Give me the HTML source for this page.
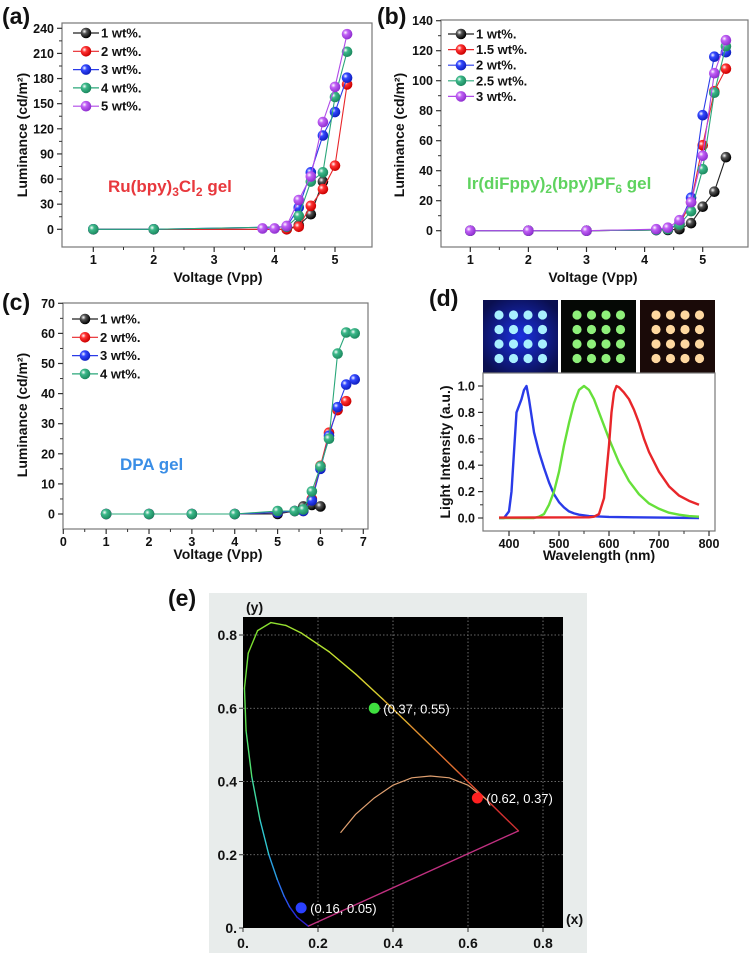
<!DOCTYPE html>
<html><head><meta charset="utf-8">
<style>
html,body{margin:0;padding:0;background:#fff;}
svg{display:block;font-family:"Liberation Sans",Arial,sans-serif;}
.tl{font-size:12.5px;font-weight:bold;fill:#111;}
.al{font-size:14px;font-weight:bold;fill:#111;}
.pl{font-size:23px;font-weight:bold;fill:#111;}
.lg{font-size:13px;font-weight:bold;fill:#111;}
</style></head>
<body>
<svg id="fig" width="753" height="959" viewBox="0 0 753 959" xmlns="http://www.w3.org/2000/svg">
<defs>
<radialGradient id="g-k" cx="35%" cy="35%" r="65%"><stop offset="0" stop-color="#fff"/><stop offset="0.35" stop-color="#555"/><stop offset="1" stop-color="#000"/></radialGradient>
<radialGradient id="g-r" cx="35%" cy="35%" r="65%"><stop offset="0" stop-color="#fff"/><stop offset="0.35" stop-color="#f33"/><stop offset="1" stop-color="#c00"/></radialGradient>
<radialGradient id="g-b" cx="35%" cy="35%" r="65%"><stop offset="0" stop-color="#fff"/><stop offset="0.35" stop-color="#3348ff"/><stop offset="1" stop-color="#1020c0"/></radialGradient>
<radialGradient id="g-g" cx="35%" cy="35%" r="65%"><stop offset="0" stop-color="#fff"/><stop offset="0.35" stop-color="#3cb88a"/><stop offset="1" stop-color="#1d8a60"/></radialGradient>
<radialGradient id="g-p" cx="35%" cy="35%" r="65%"><stop offset="0" stop-color="#fff"/><stop offset="0.35" stop-color="#c060f5"/><stop offset="1" stop-color="#9030d0"/></radialGradient>
<radialGradient id="bluebg" cx="50%" cy="50%" r="60%"><stop offset="0" stop-color="#1b30e0"/><stop offset="1" stop-color="#0a0f50"/></radialGradient>
</defs>
<g id="root"></g>
</svg>
<script>
// ---------- panel (a) data ----------
const aX = [1,2,3.8,4,4.2,4.4,4.6,4.8,5,5.2];
const a1 = [0,0,null,null,0,5,18,57,null,null];
const a2 = [0,0,null,null,0,3,28,48,76,173];
const a3 = [0,0,null,null,3,26,68,112,140,181];
const a4 = [0,0,null,null,3,16,57,68,158,212];
const a5 = [null,null,1,1,4,35,63,128,170,233];
const aLegend = ["1 wt%.","2 wt%.","3 wt%.","4 wt%.","5 wt%."];
const aYTicks = [0,30,60,90,120,150,180,210,240];
const aXTicks = [1,2,3,4,5];
// ---------- panel (b) data ----------
const bX = [1,2,3,4.2,4.4,4.6,4.8,5,5.2,5.4];
const b1 = [0,0,0,0.5,0.5,1,5,16,26,49];
const b2 = [0,0,0,0.5,1,4,19,57,93,108];
const b3 = [0,0,0,0.5,1,5,22,77,116,119];
const b4 = [0,0,0,0.5,1,4,13,41,92,123];
const b5 = [0,0,0,1,2,7,19,50,105,127];
const bLegend = ["1 wt%.","1.5 wt%.","2 wt%.","2.5 wt%.","3 wt%."];
const bYTicks = [0,20,40,60,80,100,120,140];
const bXTicks = [1,2,3,4,5];
// ---------- panel (c) data ----------
const cX = [1,2,3,4,5,5.4,5.6,5.8,6,6.2,6.4,6.6,6.8];
const c1 = [0,0,0,0,0,1,2.5,3,2.5,null,null,null,null];
const c2 = [0,0,0,0,0.5,1,1,5,16,27,34.5,37.5,null];
const c3 = [0,0,0,0,0.5,1,1,4.5,15,26,35.5,43,44.7];
const c4 = [0,0,0,0,1,1,1.5,7.5,15.8,25,53.3,60.3,60];
const cLegend = ["1 wt%.","2 wt%.","3 wt%.","4 wt%."];
const cYTicks = [0,10,20,30,40,50,60,70];
const cXTicks = [0,1,2,3,4,5,6,7];
// ---------- panel (d) data ----------
const dBlueX = [380,390,400,405,410,415,420,425,430,435,440,450,460,470,480,490,500,510,520,530,540,560,600,650,700,780];
const dBlueY = [0,0,0.05,0.2,0.5,0.8,0.85,0.9,0.97,1.0,0.9,0.65,0.5,0.38,0.27,0.18,0.12,0.08,0.05,0.035,0.025,0.015,0.008,0.005,0.003,0];
const dGreenX = [380,450,460,470,480,490,500,510,520,530,540,550,560,570,580,590,600,620,640,660,680,700,720,740,760,780];
const dGreenY = [0,0,0.01,0.03,0.1,0.2,0.35,0.55,0.72,0.87,0.97,1.0,0.97,0.9,0.8,0.7,0.6,0.42,0.28,0.18,0.11,0.07,0.04,0.025,0.015,0.01];
const dRedX = [380,560,570,580,590,600,605,610,615,620,630,640,650,660,670,680,700,720,740,760,780];
const dRedY = [0.003,0.005,0.01,0.03,0.15,0.55,0.8,0.95,1.0,0.99,0.95,0.9,0.82,0.72,0.6,0.5,0.35,0.24,0.17,0.13,0.1];
const dYTicks = [0,0.2,0.4,0.6,0.8,1.0];
const dXTicks = [400,500,600,700,800];
// ---------- panel (e) data ----------
const eLocusX = [0.1741,0.144,0.1241,0.1096,0.0913,0.0687,0.0454,0.0235,0.0082,0.0039,0.0139,0.0389,0.0743,0.1142,0.1547,0.2296,0.3016,0.3731,0.4441,0.5125,0.5752,0.627,0.6658,0.6915,0.719,0.7347];
const eLocusY = [0.005,0.0297,0.0578,0.0868,0.1327,0.2007,0.295,0.4127,0.5384,0.6548,0.7502,0.812,0.8338,0.8262,0.8059,0.7543,0.6923,0.6245,0.5547,0.4866,0.4242,0.3725,0.334,0.3083,0.2809,0.2653];
const eLocusC = ["#3020d0","#2630e0","#2a50f0","#2a70f0","#2aa0e0","#30c8d0","#40d8a0","#50e070","#60e050","#6fe040","#7ce030","#88e030","#90e030","#a0e030","#b0e030","#c8e030","#d8d030","#e0b030","#e09030","#e07030","#e05030","#e04030","#d83030","#d03030","#c83030","#c03030"];
const ePlanckX = [0.26,0.3,0.35,0.4,0.45,0.5,0.55,0.6,0.65];
const ePlanckY = [0.26,0.31,0.355,0.39,0.41,0.415,0.41,0.39,0.35];
const ePtX = [0.35,0.625,0.155];
const ePtY = [0.60,0.355,0.055];
const ePtLabel = ["(0.37, 0.55)","(0.62, 0.37)","(0.16, 0.05)"];
const ePtColor = ["#3fe03f","#ff2020","#2a40ff"];
const eTicks = [0,0.2,0.4,0.6,0.8];
const eTickLabels = ["0.","0.2","0.4","0.6","0.8"];

const NS = "http://www.w3.org/2000/svg";
const root = document.getElementById('root');
function el(tag, attrs, parent){
  const e = document.createElementNS(NS, tag);
  for (const k in attrs) e.setAttribute(k, attrs[k]);
  (parent||root).appendChild(e);
  return e;
}
function scale(d0,d1,r0,r1){ return v => r0 + (v-d0)*(r1-r0)/(d1-d0); }
const serColors = ["#222","#e8262a","#2a3be8","#2aa77a","#b04ae8"];
const serGrad = ["url(#g-k)","url(#g-r)","url(#g-b)","url(#g-g)","url(#g-p)"];

function frame(box, name){
  const r = el('rect',{x:box.l,y:box.t,width:box.r-box.l,height:box.b-box.t,fill:'none',stroke:'#777','stroke-width':1.2});
  
  
}
function yAxis(box, sy, ticks, fmt, name){
  const g = el('g',{});
  
  
  ticks.forEach((t,i)=>{
    const y = sy(t);
    el('line',{x1:box.l-5,x2:box.l,y1:y,y2:y,stroke:'#333','stroke-width':1.2},g);
    if(i<ticks.length-1){const ym=sy((t+ticks[i+1])/2); el('line',{x1:box.l-3,x2:box.l,y1:ym,y2:ym,stroke:'#333','stroke-width':1},g);}
    const tx = el('text',{x:box.l-8,y:y+4.5,'text-anchor':'end',class:'tl'},g);
    tx.textContent = fmt(t);
    
    
  });
}
function xAxis(box, sx, ticks, name){
  const g = el('g',{});
  
  
  ticks.forEach((t,i)=>{
    const x = sx(t);
    el('line',{x1:x,x2:x,y1:box.b,y2:box.b+5,stroke:'#333','stroke-width':1.2},g);
    if(i<ticks.length-1){const xm=sx((t+ticks[i+1])/2); el('line',{x1:xm,x2:xm,y1:box.b,y2:box.b+3,stroke:'#333','stroke-width':1},g);}
    const tx = el('text',{x:x,y:box.b+17,'text-anchor':'middle',class:'tl'},g);
    tx.textContent = t;
    
    
  });
}
function series(xs, ys, sx, sy, k, name){
  const g = el('g',{});
  
  
  const pts=[];
  xs.forEach((x,i)=>{ if(ys[i]!==null) pts.push([sx(x),sy(ys[i])]); });
  el('polyline',{points:pts.map(p=>p.join(',')).join(' '),fill:'none',stroke:serColors[k],'stroke-width':1.1},g);
  pts.forEach(p=>{
    const c = el('circle',{cx:p[0],cy:p[1],r:5.3,fill:serGrad[k]},g);
    
    
  });
}
function legend(labels, x, y0, dy, name){
  labels.forEach((lab,k)=>{
    const g = el('g',{});
    
    
    const y = y0 + k*dy;
    el('line',{x1:x-13,x2:x+13,y1:y,y2:y,stroke:serColors[k],'stroke-width':1.2},g);
    el('circle',{cx:x,cy:y,r:5.3,fill:serGrad[k]},g);
    const t = el('text',{x:x+15,y:y+4.5,class:'lg'},g);
    t.textContent = lab;
  });
}
function text(x,y,str,cls,name,extra){
  const t = el('text',Object.assign({x:x,y:y,class:cls},extra||{}));
  t.textContent = str;
  
  
  return t;
}

// ===== Panel (a) =====
{
  const box={l:62,r:372,t:23,b:247};
  const sx=scale(1,5,93.3,335), sy=scale(0,240,229.3,28.3);
  frame(box,'panel-a');
  yAxis(box,sy,aYTicks,v=>v,'panel-a');
  xAxis(box,sx,aXTicks,'panel-a');
  [a1,a2,a3,a4,a5].forEach((s,k)=>series(aX,s,sx,sy,k,'panel-a'));
  legend(aLegend,86,33,18.3,'panel-a');
  text(2,24,"(a)","pl","panel-a-label");
  text(27,135,"Luminance (cd/m²)","al","panel-a-y-title",{transform:"rotate(-90 27 135)","text-anchor":"middle"});
  text(218,282,"Voltage (Vpp)","al","panel-a-x-title",{"text-anchor":"middle"});
  const t=text(108,192,"","al","panel-a-annotation",{"font-size":"17px"});
  t.innerHTML='Ru(bpy)<tspan font-size="12" dy="4">3</tspan><tspan dy="-4">Cl</tspan><tspan font-size="12" dy="4">2</tspan><tspan dy="-4"> gel</tspan>';
  t.style.fill='#e8383d';
  t.style.fontSize='17px';
}
// ===== Panel (b) =====
{
  const box={l:441,r:748,t:20,b:247};
  const sx=scale(1,5,470.3,702.7), sy=scale(0,140,230.7,20.7);
  frame(box,'panel-b');
  yAxis(box,sy,bYTicks,v=>v,'panel-b');
  xAxis(box,sx,bXTicks,'panel-b');
  [b1,b2,b3,b4,b5].forEach((s,k)=>series(bX,s,sx,sy,k,'panel-b'));
  legend(bLegend,461,34,15.6,'panel-b');
  text(377,24,"(b)","pl","panel-b-label");
  text(404,135,"Luminance (cd/m²)","al","panel-b-y-title",{transform:"rotate(-90 404 135)","text-anchor":"middle"});
  text(593,282,"Voltage (Vpp)","al","panel-b-x-title",{"text-anchor":"middle"});
  const t=text(467,189,"","al","panel-b-annotation",{"font-size":"17px"});
  t.innerHTML='Ir(diFppy)<tspan font-size="12" dy="4">2</tspan><tspan dy="-4">(bpy)PF</tspan><tspan font-size="12" dy="4">6</tspan><tspan dy="-4"> gel</tspan>';
  t.style.fill='#5fd35f';
  t.style.fontSize='17px';
}
// ===== Panel (c) =====
{
  const box={l:63,r:368,t:303,b:529};
  const sx=scale(0,7,63.3,363.3), sy=scale(0,70,514,303.3);
  frame(box,'panel-c');
  yAxis(box,sy,cYTicks,v=>v,'panel-c');
  xAxis(box,sx,cXTicks,'panel-c');
  [c1,c2,c3,c4].forEach((s,k)=>series(cX,s,sx,sy,k,'panel-c'));
  legend(cLegend,85,319,18.3,'panel-c');
  text(2,310,"(c)","pl","panel-c-label");
  text(27,415,"Luminance (cd/m²)","al","panel-c-y-title",{transform:"rotate(-90 27 415)","text-anchor":"middle"});
  text(218,559,"Voltage (Vpp)","al","panel-c-x-title",{"text-anchor":"middle"});
  const t=text(120,470,"DPA gel","al","panel-c-annotation");
  t.style.fill='#3a8ee6';
  t.style.fontSize='17px';
}
// ===== Panel (d) =====
{
  text(429,306,"(d)","pl","panel-d-label");
  const imgs=[{x:483,bg:'url(#bluebg)',dot:'#a8f0ff',n:'blue-device-photo'},{x:561,bg:'#050805',dot:'#8ef07a',n:'green-device-photo'},{x:640,bg:'#1a0a08',dot:'#ffd8a0',n:'orange-device-photo'}];
  imgs.forEach(im=>{
    const g=el('g',{});
    
    
    el('rect',{x:im.x,y:300,width:75,height:73,fill:im.bg},g);
    for(let i=0;i<4;i++)for(let j=0;j<4;j++){
      el('circle',{cx:im.x+16+i*14.5,cy:315+j*14.5,r:4.6,fill:im.dot},g);
    }
  });
  const box={l:483,r:715,t:373,b:531};
  const sx=scale(400,800,509,709), sy=scale(0,1,518,386);
  frame(box,'panel-d');
  yAxis(box,sy,dYTicks,v=>v.toFixed(1),'panel-d');
  xAxis(box,sx,dXTicks,'panel-d');
  const specs=[[dBlueX,dBlueY,'#2a3be8','blue-spectrum'],[dGreenX,dGreenY,'#66e03a','green-spectrum'],[dRedX,dRedY,'#e8262a','red-spectrum']];
  specs.forEach(s=>{
    const p=el('polyline',{points:s[0].map((x,i)=>sx(x)+','+sy(s[1][i])).join(' '),fill:'none',stroke:s[2],'stroke-width':2.4,'stroke-linejoin':'round'});
    
    
  });
  text(450,452,"Light Intensity (a.u.)","al","panel-d-y-title",{transform:"rotate(-90 450 452)","text-anchor":"middle","font-size":"13px"});
  text(599,560,"Wavelength (nm)","al","panel-d-x-title",{"text-anchor":"middle"});
}
// ===== Panel (e) =====
{
  text(168,606,"(e)","pl","panel-e-label");
  const bg=el('rect',{x:209,y:593,width:378,height:360,fill:'#e8eceb'});
  
  
  const box={l:243,r:563,t:617,b:928};
  const sx=scale(0,0.8,243,543), sy=scale(0,0.8,928,635);
  const pb=el('rect',{x:box.l,y:box.t,width:box.r-box.l,height:box.b-box.t,fill:'#000'});
  
  
  eTicks.forEach((t,i)=>{
    if(t>0){
      el('line',{x1:sx(t),x2:sx(t),y1:box.t,y2:box.b,stroke:'#888','stroke-width':0.8,'stroke-dasharray':'1.5,2'});
      el('line',{x1:box.l,x2:box.r,y1:sy(t),y2:sy(t),stroke:'#888','stroke-width':0.8,'stroke-dasharray':'1.5,2'});
    }
    el('line',{x1:sx(t),x2:sx(t),y1:box.b,y2:box.b+4,stroke:'#333'});
    el('line',{x1:box.l-4,x2:box.l,y1:sy(t),y2:sy(t),stroke:'#333'});
    text(sx(t),box.b+20,eTickLabels[i],"al","cie-x-tick-label",{"text-anchor":"middle"});
    text(box.l-6,sy(t)+5,eTickLabels[i],"al","cie-y-tick-label",{"text-anchor":"end"});
  });
  for(let i=0;i<eLocusX.length-1;i++){
    el('line',{x1:sx(eLocusX[i]),y1:sy(eLocusY[i]),x2:sx(eLocusX[i+1]),y2:sy(eLocusY[i+1]),stroke:eLocusC[i],'stroke-width':1.4,'stroke-linecap':'round'});
  }
  const n=eLocusX.length-1;
  const pl=el('line',{x1:sx(eLocusX[n]),y1:sy(eLocusY[n]),x2:sx(eLocusX[0]),y2:sy(eLocusY[0]),stroke:'#c03080','stroke-width':1.4});
  
  
  const pk=el('polyline',{points:ePlanckX.map((x,i)=>sx(x)+','+sy(ePlanckY[i])).join(' '),fill:'none',stroke:'#e0a070','stroke-width':1.2});
  
  
  ePtX.forEach((x,i)=>{
    const c=el('circle',{cx:sx(x),cy:sy(ePtY[i]),r:5.5,fill:ePtColor[i]});
    
    
    const t=text(sx(x)+9,sy(ePtY[i])+5,ePtLabel[i],"tl","cie-point-label");
    t.style.fill='#fff';
    t.style.fontWeight='normal';
    t.style.fontSize='13px';
  });
  text(246,612,"(y)","al","cie-y-title");
  text(566,924,"(x)","al","cie-x-title");
}
</script>
</body></html>
